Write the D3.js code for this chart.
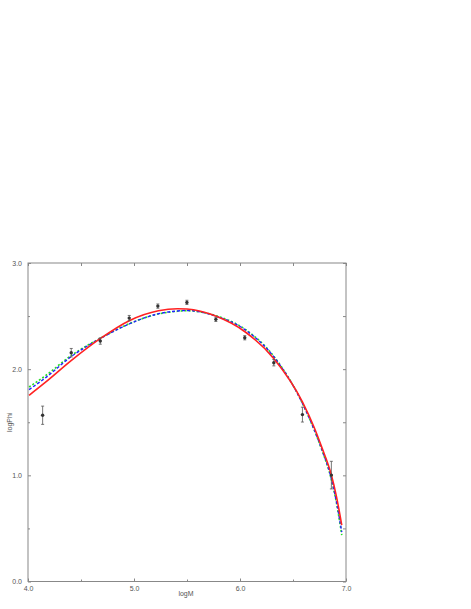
<!DOCTYPE html>
<html><head><meta charset="utf-8">
<script src="https://cdn.jsdelivr.net/npm/d3@7"></script>
<style>body{margin:0;background:#fff;} svg{display:block;}</style>
</head><body>
<script>
// Observed data points
const obsLogM = [4.138, 4.408, 4.682, 4.955, 5.225, 5.499, 5.772, 6.045, 6.319, 6.589, 6.862];
const obsLogPhi = [1.566, 2.155, 2.265, 2.481, 2.594, 2.629, 2.469, 2.296, 2.061, 1.572, 1.002];
const obsErr = [0.086, 0.04, 0.03, 0.025, 0.02, 0.02, 0.02, 0.02, 0.03, 0.07, 0.13];

// Model curves
const curveLogM  = [4.01, 4.16, 4.41, 4.68, 4.96, 5.23, 5.41, 5.50, 5.77, 6.05, 6.32, 6.59, 6.70, 6.77, 6.86, 6.91, 6.96];
const redCurve   = [1.754, 1.873, 2.083, 2.287, 2.459, 2.550, 2.569, 2.566, 2.500, 2.350, 2.099, 1.690, 1.450, 1.268, 1.010, 0.800, 0.531];
const blueCurve  = [1.807, 1.915, 2.120, 2.287, 2.428, 2.522, 2.548, 2.553, 2.500, 2.370, 2.115, 1.676, 1.430, 1.250, 0.975, 0.750, 0.465];
const greenCurve = [1.832, 1.935, 2.130, 2.290, 2.430, 2.520, 2.545, 2.550, 2.505, 2.375, 2.120, 1.676, 1.428, 1.245, 0.968, 0.740, 0.437];

const xTicks = [4.0, 5.0, 6.0, 7.0];
const yTicks = [0.0, 1.0, 2.0, 3.0];
const xMinor = [4.5, 5.5, 6.5];
const yMinor = [0.5, 1.5, 2.5];

const W = 471, H = 609;
const L = 28, R = 346, T = 263, B = 581.5;

const svg = d3.select("body").append("svg").attr("width", W).attr("height", H);
const x = d3.scaleLinear().domain([4, 7]).range([L, R]);
const y = d3.scaleLinear().domain([0, 3]).range([B, T]);

const axisColor = "#888";
const textColor = "#555";
const font = "Liberation Sans, Arial, sans-serif";
const g = svg.append("g");

// frame
g.append("rect").attr("x", L).attr("y", T).attr("width", R - L).attr("height", B - T)
  .attr("fill", "none").attr("stroke", axisColor).attr("stroke-width", 1);

function styleAxis(sel) {
  sel.select(".domain").remove();
  sel.selectAll(".tick line").attr("stroke", axisColor);
  sel.selectAll(".tick text").attr("fill", textColor).style("font-family", font).style("font-size", "7px");
}
const fmt = d3.format(".1f");
// bottom
g.append("g").attr("transform", `translate(0,${B})`)
  .call(d3.axisBottom(x).tickValues(xTicks).tickFormat(fmt).tickSizeInner(-3).tickPadding(5))
  .call(styleAxis);
g.append("g").attr("transform", `translate(0,${B})`)
  .call(d3.axisBottom(x).tickValues(xMinor).tickFormat("").tickSizeInner(-2))
  .call(styleAxis);
// top
g.append("g").attr("transform", `translate(0,${T})`)
  .call(d3.axisTop(x).tickValues(xTicks.concat(xMinor)).tickFormat("").tickSizeInner(-3))
  .call(styleAxis);
// left
g.append("g").attr("transform", `translate(${L},0)`)
  .call(d3.axisLeft(y).tickValues(yTicks).tickFormat(fmt).tickSizeInner(-3).tickPadding(6))
  .call(styleAxis);
g.append("g").attr("transform", `translate(${L},0)`)
  .call(d3.axisLeft(y).tickValues(yMinor).tickFormat("").tickSizeInner(-2))
  .call(styleAxis);
// right
g.append("g").attr("transform", `translate(${R},0)`)
  .call(d3.axisRight(y).tickValues(yTicks.concat(yMinor)).tickFormat("").tickSizeInner(-3))
  .call(styleAxis);

// axis titles
svg.append("text").attr("x", 186).attr("y", 596).attr("text-anchor", "middle")
  .attr("fill", textColor).style("font-family", font).style("font-size", "7px").text("logM");
svg.append("text").attr("transform", `translate(12,${(T + B) / 2}) rotate(-90)`).attr("text-anchor", "middle")
  .attr("fill", textColor).style("font-family", font).style("font-size", "7px").text("logPhi");

// curves
const line = d3.line().x(d => x(d[0])).y(d => y(d[1])).curve(d3.curveMonotoneX);
function drawCurve(vals, color, dash, width) {
  svg.append("path").datum(curveLogM.map((m, i) => [m, vals[i]]))
    .attr("d", line).attr("fill", "none").attr("stroke", color)
    .attr("stroke-width", width).attr("stroke-dasharray", dash);
}
drawCurve(greenCurve, "#22dd22", "2,2", 1.6);
drawCurve(blueCurve, "#2222ff", "3,2", 1.4);
drawCurve(redCurve, "#ff2222", null, 1.6);

// error bars and points
const pts = obsLogM.map((m, i) => ({ m, p: obsLogPhi[i], e: obsErr[i] }));
const eb = svg.append("g").attr("stroke", "#555").attr("stroke-width", 0.8);
pts.forEach(d => {
  eb.append("line").attr("x1", x(d.m)).attr("x2", x(d.m)).attr("y1", y(d.p - d.e)).attr("y2", y(d.p + d.e));
  eb.append("line").attr("x1", x(d.m) - 1.5).attr("x2", x(d.m) + 1.5).attr("y1", y(d.p - d.e)).attr("y2", y(d.p - d.e));
  eb.append("line").attr("x1", x(d.m) - 1.5).attr("x2", x(d.m) + 1.5).attr("y1", y(d.p + d.e)).attr("y2", y(d.p + d.e));
});
svg.append("g").selectAll("circle").data(pts).join("circle")
  .attr("cx", d => x(d.m)).attr("cy", d => y(d.p)).attr("r", 1.7).attr("fill", "#333");
</script>
</body></html>
